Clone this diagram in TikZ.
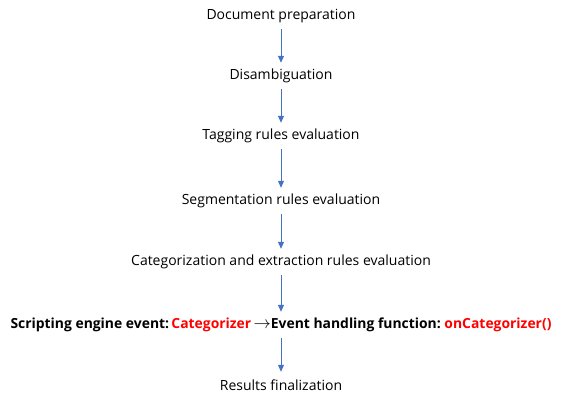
\documentclass[tikz,border=0pt]{standalone}
\usepackage{fontspec}
\setmainfont{Open Sans}
\usetikzlibrary{arrows.meta}
\definecolor{flowblue}{HTML}{4472C4}
\definecolor{eventred}{HTML}{FF0000}
\tikzset{
  stage/.style={inner sep=0pt, minimum height=26pt, font=\fontsize{14}{16}\selectfont},
  flow/.style={-{Triangle[length=7pt,width=6pt]}, flowblue, line width=1pt}
}
\begin{document}
\frenchspacing
\begin{tikzpicture}[x=1pt,y=-1pt]
        \useasboundingbox (0,0) rectangle (562,400);
        % Processing stages
        \node[stage] (prep) at (281,16) {Document preparation};
        \node[stage] (disamb) at (281,76) {Disambiguation};
        \node[stage] (tagging) at (281,136) {Tagging rules evaluation};
        \node[stage] (segment) at (281,201) {Segmentation rules evaluation};
        \node[stage] (categ) at (281,262) {Categorization and extraction rules evaluation};
        \node[stage, font=\fontsize{13.9}{16}\selectfont\bfseries] (script) at (281,325)
            {Scripting engine event:\,\textcolor{eventred}{Categorizer}\,{\fontsize{17}{16}\selectfont$\rightarrow$}Event handling function: \textcolor{eventred}{onCategorizer()}};
        \node[stage] (results) at (281,385) {Results finalization};

        % Arrows between stages
        \draw[flow] (prep) -- (disamb);
        \draw[flow] (disamb) -- (tagging);
        \draw[flow] (tagging) -- (segment);
        \draw[flow] (segment) -- (categ);
        \draw[flow] (categ) -- (script);
        \draw[flow] (script) -- (results);
    \end{tikzpicture}
\end{document}
